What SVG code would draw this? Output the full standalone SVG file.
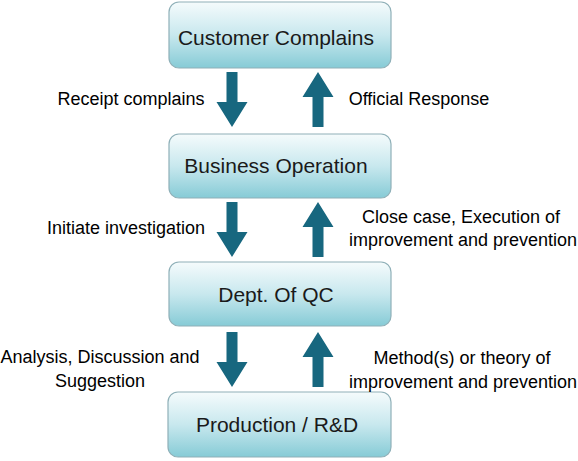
<svg xmlns="http://www.w3.org/2000/svg" width="578" height="461" viewBox="0 0 578 461">
<defs>
<linearGradient id="g" x1="0" y1="0" x2="0" y2="1">
<stop offset="0" stop-color="#f5fbfc"/>
<stop offset="0.5" stop-color="#c8e8ee"/>
<stop offset="1" stop-color="#86cbd6"/>
</linearGradient>
<path id="down" d="M-5.5,0 H5.5 V30 H15.5 L0,55 L-15.5,30 H-5.5 Z"/>
<path id="up" d="M-5.5,55 H5.5 V25 H15.5 L0,0 L-15.5,25 H-5.5 Z"/>
</defs>
<style>
.box{fill:url(#g);stroke:#8fb0b8;stroke-width:1.2}
.bt{font-family:"Liberation Sans",Arial,sans-serif;font-size:21px;fill:#1a1a1a;text-anchor:middle}
.lt{font-family:"Liberation Sans",Arial,sans-serif;font-size:18px;fill:#000;text-anchor:middle}
.ar{fill:#17677f}
</style>
<rect width="578" height="461" fill="#fff"/>
<g id="n1"><rect class="box" x="169" y="2" width="222" height="66" rx="10"/><text class="bt" x="276" y="45">Customer Complains</text></g>
<g id="n2"><rect class="box" x="169" y="134" width="222" height="64" rx="10"/><text class="bt" x="276" y="173">Business Operation</text></g>
<g id="n3"><rect class="box" x="169" y="262" width="222" height="64" rx="10"/><text class="bt" x="276" y="302">Dept. Of QC</text></g>
<g id="n4"><rect class="box" x="168" y="392" width="223" height="65" rx="10"/><text class="bt" x="277" y="432">Production / R&amp;D</text></g>
<g id="connectors">
<use href="#down" class="ar" x="232" y="72"/>
<use href="#up" class="ar" x="318" y="72"/>
<use href="#down" class="ar" x="232" y="202"/>
<use href="#up" class="ar" x="318" y="202"/>
<use href="#down" class="ar" x="232" y="332"/>
<use href="#up" class="ar" x="318" y="332"/>
</g>
<g id="labels">
<text class="lt" x="131" y="105">Receipt complains</text>
<text class="lt" x="419" y="105">Official Response</text>
<text class="lt" x="126" y="234">Initiate investigation</text>
<text class="lt" x="461" y="223">Close case, Execution of</text>
<text class="lt" x="463" y="246">improvement and prevention</text>
<text class="lt" x="100" y="363">Analysis, Discussion and</text>
<text class="lt" x="100" y="387">Suggestion</text>
<text class="lt" x="462" y="364">Method(s) or theory of</text>
<text class="lt" x="463" y="388">improvement and prevention</text>
</g>
</svg>
